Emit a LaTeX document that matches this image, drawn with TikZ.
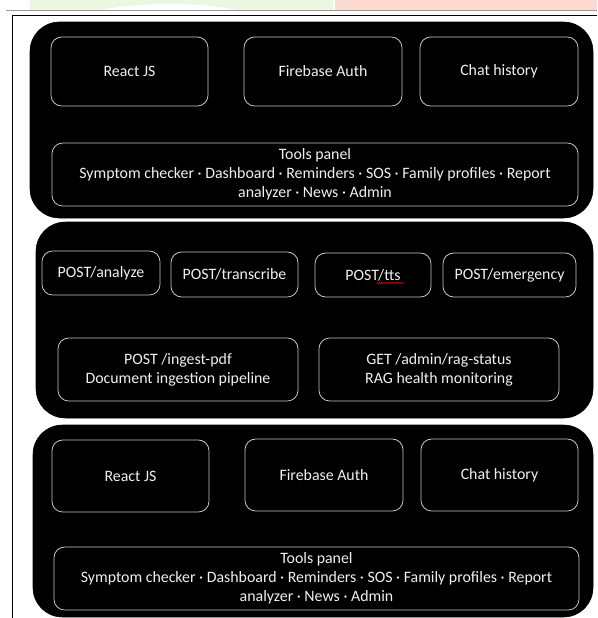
\documentclass[tikz,border=0pt]{standalone}
\usepackage{fontspec}
\setmainfont{Carlito}
\usetikzlibrary{decorations.pathmorphing}
\definecolor{stripgreen}{HTML}{EBF7E1}
\definecolor{striporange}{HTML}{FDDBD1}
\definecolor{boxline}{HTML}{C8C8C8}
\definecolor{boxtext}{HTML}{F0F0F0}
\tikzset{
  block/.style={fill=black, draw=black, rounded corners=22pt, inner sep=0pt},
  ibox/.style={draw=boxline, line width=0.6pt, rounded corners=8pt, inner sep=0pt,
    text=boxtext, align=center, font=\fontsize{11.9}{14.25}\selectfont},
}
\newcommand\pxbox[7]{\node[#1, minimum width={(#5-#3)*0.75pt}, minimum height={(#6-#4)*0.75pt}]
  (#2) at ({(#3+#5)/2},{(#4+#6)/2}) {#7};}
\begin{document}
\begin{tikzpicture}[x=0.75pt,y=-0.75pt]
\useasboundingbox (0,0) rectangle (597,618);
% top strip
\fill[stripgreen] (30,0) rectangle (333,10);
\fill[white] (100,10.2) .. controls (140,2) and (200,2) .. (238,10.2) -- cycle;
\fill[striporange] (335,0) rectangle (597,10);
\draw[gray!80, line width=0.9pt] (6,10.5) -- (597,10.5);
\draw[black, line width=0.7pt] (12,618) -- (12,15) -- (597,15);

% block 1
\pxbox{block}{b1}{30}{22}{593}{218}{}
\pxbox{ibox}{react1}{51}{37}{208}{106}{React JS}
\pxbox{ibox}{fire1}{244}{37}{402}{106}{Firebase Auth}
\pxbox{ibox}{chat1}{420}{37}{578}{106}{Chat history}
\pxbox{ibox}{tools1}{52}{143}{578}{206}{Tools panel\\Symptom checker · Dashboard · Reminders · SOS · Family profiles · Report\\analyzer · News · Admin}

% block 2
\pxbox{block}{b2}{36}{222}{593}{418}{}
\pxbox{ibox}{analyze}{42}{251}{160}{295}{POST/analyze}
\pxbox{ibox}{transcribe}{171}{252}{298}{297}{POST/transcribe}
\pxbox{ibox}{tts}{315}{253}{431}{297}{POST/tts}
\pxbox{ibox}{emergency}{443}{253}{576}{297}{POST/emergency}
\pxbox{ibox}{ingest}{58}{338}{298}{401}{POST /ingest-pdf\\Document ingestion pipeline}
\pxbox{ibox}{rag}{319}{338}{559}{401}{GET /admin/rag-status\\RAG health monitoring}
\coordinate (wavyA) at (377,283);
\coordinate (wavyB) at (404,283);
\draw[red!80!black, line width=0.4pt, decorate, decoration={zigzag, amplitude=0.6pt, segment length=1.6pt}] (wavyA) -- (wavyB);

% block 3
\pxbox{block}{b3}{33}{425}{593}{617}{}
\pxbox{ibox}{react2}{52}{440}{209}{512}{React JS}
\pxbox{ibox}{fire2}{245}{439}{403}{511}{Firebase Auth}
\pxbox{ibox}{chat2}{421}{439}{578}{511}{Chat history}
\pxbox{ibox}{tools2}{54}{547}{579}{610}{Tools panel\\Symptom checker · Dashboard · Reminders · SOS · Family profiles · Report\\analyzer · News · Admin}
\end{tikzpicture}
\end{document}
